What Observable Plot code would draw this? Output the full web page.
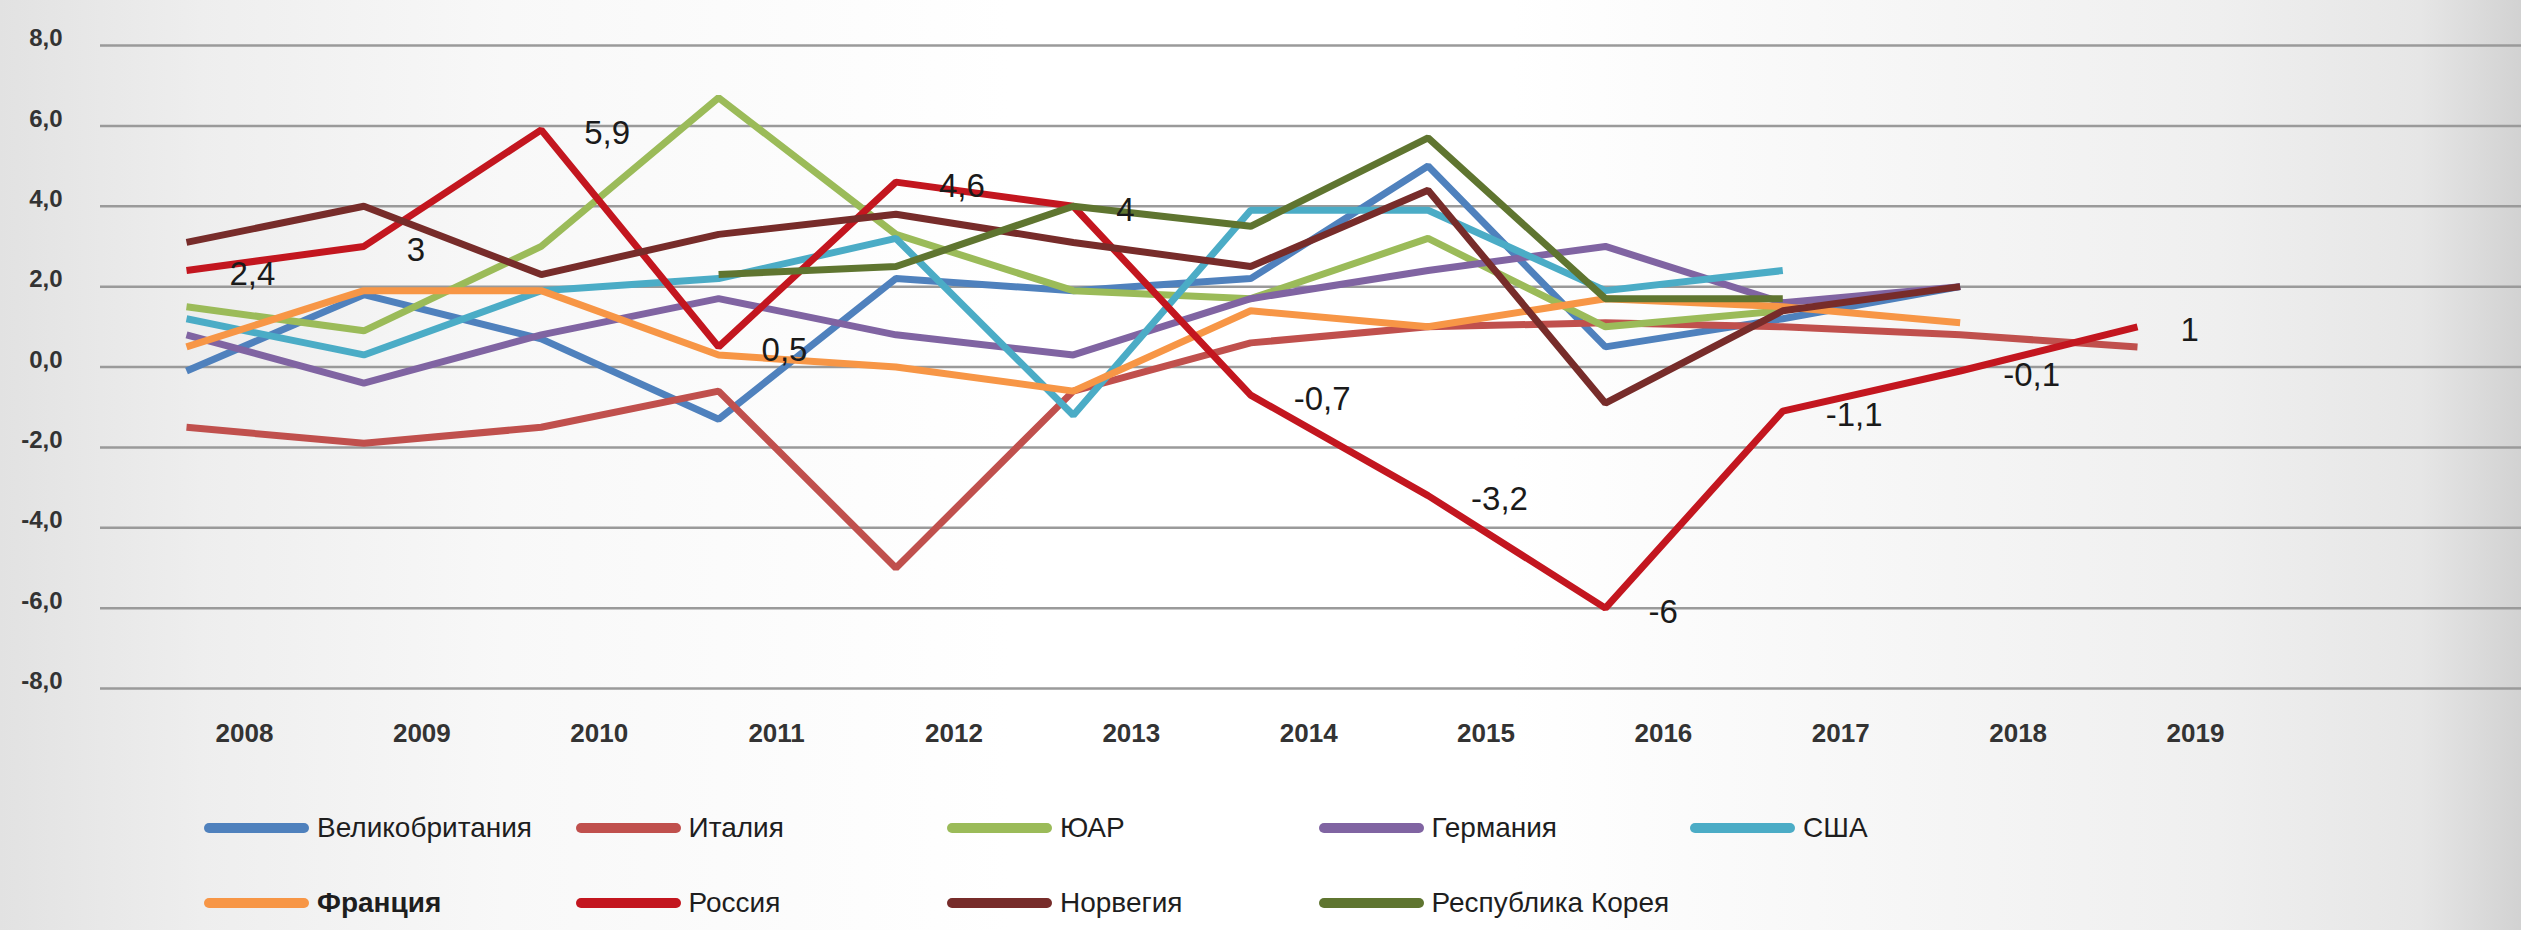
<!DOCTYPE html>
<html>
<head>
<meta charset="utf-8">
<script src="https://cdn.jsdelivr.net/npm/d3@7"></script>
<script src="https://cdn.jsdelivr.net/npm/@observablehq/plot@0.6"></script>
<style>
  html, body { margin: 0; padding: 0; }
  body {
    width: 2521px; height: 930px; overflow: hidden;
    font-family: "Liberation Sans", Arial, sans-serif;
    background: linear-gradient(90deg, #e2e2e2 0%, #eeeeee 8%, #f8f8f8 20%, #ffffff 40%, #ffffff 60%, #f8f8f8 72%, #efefef 88%, #e6e6e6 96%, #d2d2d2 100%);
  }
  #chart svg { display: block; }
  .legend {
    display: grid;
    grid-template-columns: repeat(5, 371.5px);
    padding-left: 204px;
  }
  .item { display: flex; align-items: center; height: 75px; }
  .swatch { width: 105px; height: 10px; border-radius: 5px; margin-right: 8px; flex: none; }
  .label { font-size: 28px; color: #1e1e1e; white-space: nowrap; }
</style>
</head>
<body>
<div id="chart"></div>
<div class="legend" id="legend"></div>
<script>
// ---- data ----
const years = [2008, 2009, 2010, 2011, 2012, 2013, 2014, 2015, 2016, 2017, 2018, 2019];
const countries = ["Великобритания", "Италия", "ЮАР", "Германия", "США", "Франция", "Россия", "Норвегия", "Республика Корея"];
const colors = ["#4F81BD", "#C0504D", "#9BBB59", "#8064A2", "#4BACC6", "#F79646", "#C3161F", "#772C2A", "#5F7530"];

const uk      = [-0.1, 1.8, 0.7, -1.3, 2.2, 1.9, 2.2, 5.0, 0.5, 1.2, 2.0, null];
const italy   = [-1.5, -1.9, -1.5, -0.6, -5.0, -0.6, 0.6, 1.0, 1.1, 1.0, 0.8, 0.5];
const rsa     = [1.5, 0.9, 3.0, 6.7, 3.3, 1.9, 1.7, 3.2, 1.0, 1.4, null, null];
const germany = [0.8, -0.4, 0.8, 1.7, 0.8, 0.3, 1.7, 2.4, 3.0, 1.6, 2.0, null];
const usa     = [1.2, 0.3, 1.9, 2.2, 3.2, -1.2, 3.9, 3.9, 1.9, 2.4, null, null];
const france  = [0.5, 1.9, 1.9, 0.3, 0.0, -0.6, 1.4, 1.0, 1.7, 1.5, 1.1, null];
const russia  = [2.4, 3, 5.9, 0.5, 4.6, 4, -0.7, -3.2, -6, -1.1, -0.1, 1];
const norway  = [3.1, 4.0, 2.3, 3.3, 3.8, 3.1, 2.5, 4.4, -0.9, 1.4, 2.0, null];
const korea   = [null, null, null, 2.3, 2.5, 4.0, 3.5, 5.7, 1.7, 1.7, null, null];

const yTicks = [-8, -6, -4, -2, 0, 2, 4, 6, 8];
// ---------------

const seriesValues = [uk, italy, rsa, germany, usa, france, russia, norway, korea];
const rows = [];
countries.forEach((c, k) => {
  seriesValues[k].forEach((v, i) => {
    if (v !== null) rows.push({country: c, year: years[i], value: v});
  });
});
const russiaRows = rows.filter(d => d.country === "Россия");
const comma = v => String(v).replace(".", ",");

const plot = Plot.plot({
  width: 2521,
  height: 790,
  marginLeft: 100,
  marginRight: 0,
  marginTop: 45,
  marginBottom: 102,
  style: {background: "transparent", fontFamily: "Liberation Sans, Arial, sans-serif"},
  x: {domain: [2008, 2019], range: [186, 2137]},
  y: {domain: [-8, 8]},
  color: {domain: countries, range: colors},
  marks: [
    Plot.ruleY(yTicks, {stroke: "#9a9a9a", strokeWidth: 2.5}),
    Plot.axisY(yTicks, {label: null, tickSize: 0, tickPadding: 38, dy: -7, fontSize: 24, fontWeight: "bold", fill: "#333", tickFormat: d => d.toFixed(1).replace(".", ",")}),
    Plot.axisX(years, {label: null, tickSize: 0, tickPadding: 35, dx: 58, fontSize: 26, fontWeight: "bold", fill: "#333", tickFormat: d => String(d)}),
    Plot.line(rows, {x: "year", y: "value", z: "country", stroke: "country", strokeWidth: 7, strokeLinejoin: "miter", strokeLinecap: "butt"}),
    Plot.text(russiaRows, {x: "year", y: "value", text: d => comma(d.value), textAnchor: "start", dx: 43, dy: 4, fontSize: 33, fill: "#1a1a1a"})
  ]
});
document.getElementById("chart").appendChild(plot);

// legend (HTML, below the SVG)
const legend = document.getElementById("legend");
countries.forEach((name, k) => {
  const item = document.createElement("div");
  item.className = "item";
  const sw = document.createElement("span");
  sw.className = "swatch";
  sw.style.background = colors[k];
  const lb = document.createElement("span");
  lb.className = "label";
  lb.textContent = name;
  if (name === "Франция") lb.style.fontWeight = "bold";
  item.appendChild(sw);
  item.appendChild(lb);
  legend.appendChild(item);
});
</script>
</body>
</html>
